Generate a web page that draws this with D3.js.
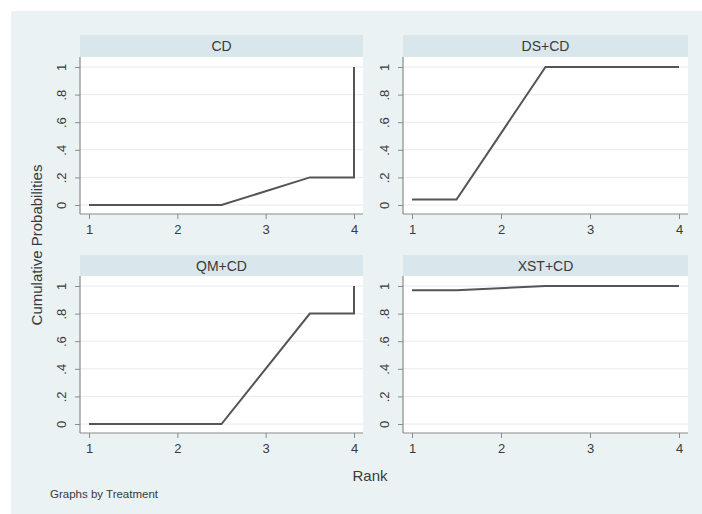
<!DOCTYPE html>
<html><head><meta charset="utf-8">
<script src="https://cdn.jsdelivr.net/npm/d3@7"></script>
<style>body{margin:0;background:#fff;}svg{display:block;font-family:"Liberation Sans",Arial,sans-serif;}</style>
</head><body>
<script>
const treatments = ["CD", "DS+CD", "QM+CD", "XST+CD"];
const rankCD = [1, 2.5, 3.5, 4, 4];
const probCD = [0, 0, 0.2, 0.2, 1];
const rankDS = [1, 1.5, 2.5, 4];
const probDS = [0.04, 0.04, 1, 1];
const rankQM = [1, 2.5, 3.5, 4, 4];
const probQM = [0, 0, 0.8, 0.8, 1];
const rankXST = [1, 1.5, 2.5, 4];
const probXST = [0.97, 0.97, 1, 1];
const xTicks = [1, 2, 3, 4];
const yTicks = [0, 0.2, 0.4, 0.6, 0.8, 1];
const yTickLabels = ["0", ".2", ".4", ".6", ".8", "1"];

const series = [
  {name: treatments[0], x: rankCD, y: probCD},
  {name: treatments[1], x: rankDS, y: probDS},
  {name: treatments[2], x: rankQM, y: probQM},
  {name: treatments[3], x: rankXST, y: probXST}
];

const W = 702, H = 514;
const svg = d3.select("body").append("svg").attr("width", W).attr("height", H);
svg.append("rect").attr("x", 0).attr("y", 0).attr("width", W).attr("height", H).attr("fill", "#fff");
svg.append("rect").attr("x", 11).attr("y", 11).attr("width", W - 11).attr("height", H - 11).attr("fill", "#eaf2f3");

const cols = [{x0: 80, x1: 363}, {x0: 403, x1: 688}];
const rows = [{h0: 35, p0: 57, p1: 214}, {h0: 255, p0: 276, p1: 433}];
const textCol = "#3a3a3a";

series.forEach((s, i) => {
  const c = cols[i % 2], r = rows[Math.floor(i / 2)];
  const g = svg.append("g");
  const x = d3.scaleLinear().domain([1, 4]).range([c.x0 + 9, c.x1 - 9]);
  const y = d3.scaleLinear().domain([0, 1]).range([r.p1 - 9, r.p0 + 10]);
  // header strip
  g.append("rect").attr("x", c.x0).attr("y", r.h0).attr("width", c.x1 - c.x0).attr("height", r.p0 - r.h0).attr("fill", "#d9e6eb");
  g.append("text").attr("x", (c.x0 + c.x1) / 2).attr("y", (r.h0 + r.p0) / 2 + 5)
    .attr("text-anchor", "middle").attr("font-size", 14).attr("fill", textCol).text(s.name);
  // plot area
  g.append("rect").attr("x", c.x0).attr("y", r.p0).attr("width", c.x1 - c.x0).attr("height", r.p1 - r.p0).attr("fill", "#fff");
  // gridlines
  g.selectAll(".grid").data(yTicks).enter().append("line")
    .attr("x1", c.x0).attr("x2", c.x1).attr("y1", d => y(d)).attr("y2", d => y(d))
    .attr("stroke", "#eaeaea").attr("stroke-width", 1);
  // y axis
  const yAxis = d3.axisLeft(y).tickValues(yTicks).tickFormat((d, k) => yTickLabels[k]).tickSize(5).tickPadding(4);
  const ya = g.append("g").attr("transform", `translate(${c.x0},0)`).call(yAxis);
  ya.select(".domain").attr("d", `M0,${r.p0}V${r.p1}`).attr("stroke", "#8a8a8a").attr("stroke-width", 1.2);
  ya.selectAll(".tick line").attr("stroke", "#8a8a8a");
  ya.selectAll(".tick text").attr("font-size", 13).attr("fill", textCol).attr("font-family", "Liberation Sans, Arial, sans-serif")
    .attr("text-anchor", "middle").attr("dy", null)
    .attr("transform", "translate(-18,0) rotate(-90)").attr("x", 0).attr("y", 4);
  // x axis
  const xAxis = d3.axisBottom(x).tickValues(xTicks).tickFormat(d3.format("d")).tickSize(5).tickPadding(6);
  const xa = g.append("g").attr("transform", `translate(0,${r.p1})`).call(xAxis);
  xa.select(".domain").attr("d", `M${c.x0},0H${c.x1}`).attr("stroke", "#8a8a8a").attr("stroke-width", 1.2);
  xa.selectAll(".tick line").attr("stroke", "#8a8a8a");
  xa.selectAll(".tick text").attr("font-size", 13).attr("fill", textCol).attr("font-family", "Liberation Sans, Arial, sans-serif");
  // line
  const pts = s.x.map((v, k) => [v, s.y[k]]);
  g.append("path").datum(pts)
    .attr("d", d3.line().x(d => x(d[0])).y(d => y(d[1])))
    .attr("fill", "none").attr("stroke", "#555").attr("stroke-width", 2).attr("stroke-linejoin", "miter");
});

svg.append("text").attr("x", 370).attr("y", 481).attr("text-anchor", "middle")
  .attr("font-size", 15).attr("fill", textCol).text("Rank");
svg.append("text").attr("transform", "translate(42,245) rotate(-90)").attr("text-anchor", "middle")
  .attr("font-size", 15).attr("fill", textCol).text("Cumulative Probabilities");
svg.append("text").attr("x", 50).attr("y", 498).attr("font-size", 11.5).attr("fill", textCol).text("Graphs by Treatment");
</script>
</body></html>
